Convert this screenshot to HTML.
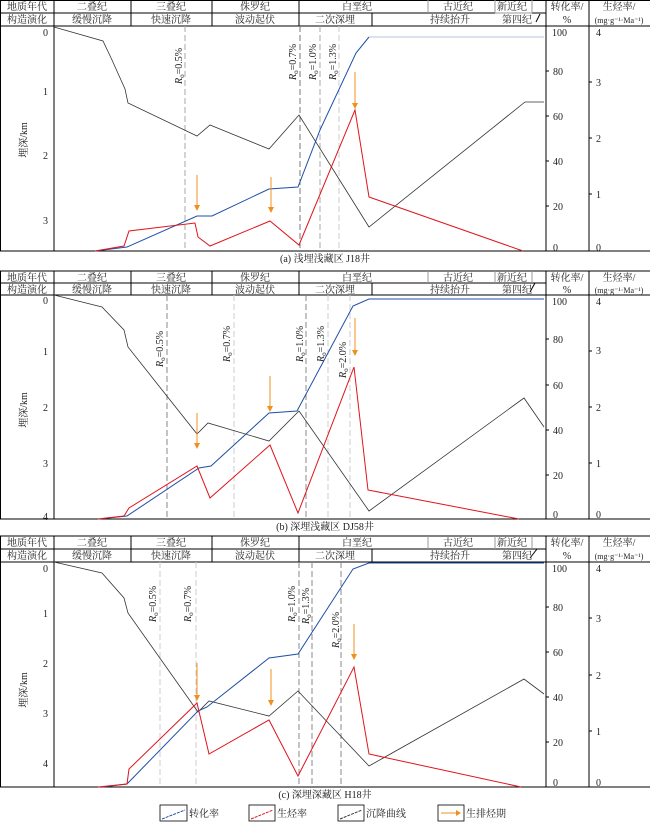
<!DOCTYPE html>
<html><head><meta charset="utf-8"><style>
html,body{margin:0;padding:0;background:#fff}
svg{display:block}
text{font-family:"Liberation Serif","Noto Serif CJK SC",serif;fill:#222}
</style></head><body>
<svg width="650" height="822" viewBox="0 0 650 822" xmlns="http://www.w3.org/2000/svg">

<!-- ===== Panel A ===== -->
<g>
<g stroke="#000" stroke-width="1" fill="none">
<line x1="0" y1="0.5" x2="650" y2="0.5"/>
<line x1="0" y1="13" x2="546" y2="13"/>
<line x1="0" y1="26" x2="650" y2="26"/>
<line x1="0" y1="251" x2="650" y2="251"/>
<line x1="0.5" y1="0" x2="0.5" y2="251"/>
<line x1="54" y1="0" x2="54" y2="251"/>
<line x1="131" y1="0" x2="131" y2="26"/><line x1="212" y1="0" x2="212" y2="26"/><line x1="299" y1="0" x2="299" y2="26"/><line x1="372" y1="13" x2="372" y2="26"/>
<line x1="546" y1="0" x2="546" y2="251"/><line x1="589" y1="0" x2="589" y2="251"/>
<line x1="536" y1="22" x2="540" y2="14"/>
</g>
<g stroke="#999" fill="none"><line x1="428" y1="0" x2="428" y2="13"/><line x1="495" y1="0" x2="495" y2="13"/><line x1="532" y1="0" x2="532" y2="13"/><line x1="495" y1="13" x2="532" y2="13"/></g>
<g font-size="10" text-anchor="middle">
<text x="27" y="10">地质年代</text><text x="27" y="23">构造演化</text>
<text x="92" y="10">二叠纪</text><text x="171" y="10">三叠纪</text><text x="255" y="10">侏罗纪</text><text x="357" y="10">白垩纪</text><text x="458" y="10">古近纪</text><text x="512" y="10">新近纪</text>
<text x="92" y="23">缓慢沉降</text><text x="171" y="23">快速沉降</text><text x="255" y="23">波动起伏</text><text x="335" y="23">二次深埋</text><text x="450" y="23">持续抬升</text><text x="517" y="23">第四纪</text>
<text x="567" y="10">转化率/</text><text x="567" y="23">%</text><text x="619" y="10">生烃率/</text><text x="619" y="23" font-size="8">(mg·g⁻¹·Ma⁻¹)</text>
</g>
<g font-size="10" text-anchor="end"><text x="48" y="36">0</text><text x="48" y="95">1</text><text x="48" y="159">2</text><text x="48" y="224">3</text></g>
<text font-size="10" text-anchor="middle" transform="translate(27,140) rotate(-90)">埋深/km</text>
<g font-size="10"><text x="552" y="36">100</text><text x="553" y="75">80</text><text x="553" y="120">60</text><text x="553" y="165">40</text><text x="553" y="210">20</text><text x="553" y="251">0</text>
<text x="596" y="36">4</text><text x="596" y="86">3</text><text x="596" y="142">2</text><text x="596" y="198">1</text><text x="596" y="251">0</text></g>
<g stroke="#000"><line x1="546" y1="71" x2="549" y2="71"/><line x1="546" y1="116" x2="549" y2="116"/><line x1="546" y1="161" x2="549" y2="161"/><line x1="546" y1="206" x2="549" y2="206"/><line x1="589" y1="82" x2="592" y2="82"/><line x1="589" y1="138" x2="592" y2="138"/><line x1="589" y1="194" x2="592" y2="194"/></g>
<g fill="none" stroke-dasharray="6,3">
<line x1="185" y1="26" x2="185" y2="251" stroke="#aaa"/><line x1="300" y1="26" x2="300" y2="251" stroke="#777"/><line x1="320" y1="26" x2="320" y2="251" stroke="#aaa"/><line x1="339" y1="26" x2="339" y2="251" stroke="#ccc"/>
</g>
<g font-size="10">
<text transform="translate(182,84) rotate(-90)"><tspan font-style="italic">R</tspan><tspan font-size="7" dy="2">o</tspan><tspan dy="-2">=0.5%</tspan></text>
<text transform="translate(296,80) rotate(-90)"><tspan font-style="italic">R</tspan><tspan font-size="7" dy="2">o</tspan><tspan dy="-2">=0.7%</tspan></text>
<text transform="translate(316,80) rotate(-90)"><tspan font-style="italic">R</tspan><tspan font-size="7" dy="2">o</tspan><tspan dy="-2">=1.0%</tspan></text>
<text transform="translate(336,80) rotate(-90)"><tspan font-style="italic">R</tspan><tspan font-size="7" dy="2">o</tspan><tspan dy="-2">=1.3%</tspan></text>
</g>
<polyline fill="none" stroke="#333" stroke-width="0.8" points="54,27 103,41 112,60 125,89 128,103 197,136 210,125 269,149 299,115 369,227 525,102 544,102"/>
<polyline fill="none" stroke="#1f4fa8" stroke-width="1" points="95,251 127,247 197,216 212,216 269,189 298,187 320,130 356,53 369,37"/>
<line x1="369" y1="37" x2="544" y2="37" stroke="#b8c6d8"/>
<polyline fill="none" stroke="#e0141c" stroke-width="1" points="95,251 124,246 129,231 195,223 198,237 210,246 270,221 299,245 355,110 369,197 523,251"/>
<g stroke="#f0901c" stroke-width="1"><line x1="197" y1="175" x2="197" y2="206"/><line x1="271" y1="177" x2="271" y2="208"/><line x1="355" y1="72" x2="355" y2="104"/></g>
<g fill="#f0901c"><path d="M194,205 L200,205 L197,211z"/><path d="M268,207 L274,207 L271,213z"/><path d="M352,103 L358,103 L355,109z"/></g>
<text x="325" y="262" font-size="10" text-anchor="middle">(a) 浅埋浅藏区 J18井</text>
</g>

<!-- ===== Panel B ===== -->
<g>
<g stroke="#000" stroke-width="1" fill="none">
<line x1="0" y1="271" x2="650" y2="271"/>
<line x1="0" y1="283" x2="546" y2="283"/>
<line x1="0" y1="295" x2="650" y2="295"/>
<line x1="0" y1="519" x2="650" y2="519"/>
<line x1="0.5" y1="271" x2="0.5" y2="519"/>
<line x1="54" y1="271" x2="54" y2="519"/>
<line x1="131" y1="271" x2="131" y2="295"/><line x1="212" y1="271" x2="212" y2="295"/><line x1="299" y1="271" x2="299" y2="295"/><line x1="372" y1="283" x2="372" y2="295"/>
<line x1="546" y1="271" x2="546" y2="519"/><line x1="589" y1="271" x2="589" y2="519"/>
<line x1="530" y1="292" x2="535" y2="283"/>
</g>
<g stroke="#999" fill="none"><line x1="428" y1="271" x2="428" y2="283"/><line x1="495" y1="271" x2="495" y2="283"/><line x1="532" y1="271" x2="532" y2="283"/></g>
<g font-size="10" text-anchor="middle">
<text x="27" y="281">地质年代</text><text x="27" y="293">构造演化</text>
<text x="92" y="281">二叠纪</text><text x="171" y="281">三叠纪</text><text x="255" y="281">侏罗纪</text><text x="357" y="281">白垩纪</text><text x="458" y="281">古近纪</text><text x="512" y="281">新近纪</text>
<text x="92" y="293">缓慢沉降</text><text x="171" y="293">快速沉降</text><text x="255" y="293">波动起伏</text><text x="335" y="293">二次深埋</text><text x="450" y="293">持续抬升</text><text x="517" y="293">第四纪</text>
<text x="567" y="281">转化率/</text><text x="567" y="293">%</text><text x="619" y="281">生烃率/</text><text x="619" y="293" font-size="8">(mg·g⁻¹·Ma⁻¹)</text>
</g>
<g font-size="10" text-anchor="end"><text x="48" y="304">0</text><text x="48" y="355">1</text><text x="48" y="411">2</text><text x="48" y="467">3</text><text x="48" y="520">4</text></g>
<text font-size="10" text-anchor="middle" transform="translate(27,410) rotate(-90)">埋深/km</text>
<g font-size="10"><text x="552" y="305">100</text><text x="553" y="343">80</text><text x="553" y="389">60</text><text x="553" y="434">40</text><text x="553" y="479">20</text><text x="553" y="518">0</text>
<text x="596" y="305">4</text><text x="596" y="354">3</text><text x="596" y="411">2</text><text x="596" y="467">1</text><text x="596" y="518">0</text></g>
<g stroke="#000"><line x1="546" y1="339" x2="549" y2="339"/><line x1="546" y1="385" x2="549" y2="385"/><line x1="546" y1="430" x2="549" y2="430"/><line x1="546" y1="475" x2="549" y2="475"/><line x1="589" y1="351" x2="592" y2="351"/><line x1="589" y1="407" x2="592" y2="407"/><line x1="589" y1="463" x2="592" y2="463"/></g>
<g fill="none" stroke-dasharray="6,3">
<line x1="167" y1="295" x2="167" y2="519" stroke="#888"/><line x1="234" y1="295" x2="234" y2="519" stroke="#ccc"/><line x1="306" y1="295" x2="306" y2="519" stroke="#888"/><line x1="328" y1="295" x2="328" y2="519" stroke="#ccc"/><line x1="350" y1="295" x2="350" y2="519" stroke="#ccc"/>
</g>
<g font-size="10">
<text transform="translate(163,367) rotate(-90)"><tspan font-style="italic">R</tspan><tspan font-size="7" dy="2">o</tspan><tspan dy="-2">=0.5%</tspan></text>
<text transform="translate(230,362) rotate(-90)"><tspan font-style="italic">R</tspan><tspan font-size="7" dy="2">o</tspan><tspan dy="-2">=0.7%</tspan></text>
<text transform="translate(303,362) rotate(-90)"><tspan font-style="italic">R</tspan><tspan font-size="7" dy="2">o</tspan><tspan dy="-2">=1.0%</tspan></text>
<text transform="translate(324,362) rotate(-90)"><tspan font-style="italic">R</tspan><tspan font-size="7" dy="2">o</tspan><tspan dy="-2">=1.3%</tspan></text>
<text transform="translate(346,378) rotate(-90)"><tspan font-style="italic">R</tspan><tspan font-size="7" dy="2">o</tspan><tspan dy="-2">=2.0%</tspan></text>
</g>
<polyline fill="none" stroke="#333" stroke-width="0.8" points="54,295 102,307 124,330 128,347 197,434 208,423 269,441 299,411 369,511 524,398 544,427"/>
<polyline fill="none" stroke="#1f4fa8" stroke-width="1" points="98,519 127,516 199,468 211,466 269,413 297,411 353,306 369,299 544,299"/>
<polyline fill="none" stroke="#e0141c" stroke-width="1" points="98,519 124,516 129,508 197,466 210,498 270,445 298,513 354,367 368,490 519,519"/>
<g stroke="#f0901c" stroke-width="1"><line x1="197" y1="413" x2="197" y2="444"/><line x1="270" y1="376" x2="270" y2="407"/><line x1="355" y1="318" x2="355" y2="351"/></g>
<g fill="#f0901c"><path d="M194,443 L200,443 L197,449z"/><path d="M267,406 L273,406 L270,412z"/><path d="M352,350 L358,350 L355,356z"/></g>
<text x="325" y="530" font-size="10" text-anchor="middle">(b) 深埋浅藏区 DJ58井</text>
</g>

<!-- ===== Panel C ===== -->
<g>
<g stroke="#000" stroke-width="1" fill="none">
<line x1="0" y1="536" x2="650" y2="536"/>
<line x1="0" y1="549" x2="546" y2="549"/>
<line x1="0" y1="562" x2="650" y2="562"/>
<line x1="0" y1="787" x2="650" y2="787"/>
<line x1="0.5" y1="536" x2="0.5" y2="787"/>
<line x1="54" y1="536" x2="54" y2="787"/>
<line x1="131" y1="536" x2="131" y2="562"/><line x1="212" y1="536" x2="212" y2="562"/><line x1="299" y1="536" x2="299" y2="562"/><line x1="372" y1="549" x2="372" y2="562"/>
<line x1="546" y1="536" x2="546" y2="787"/><line x1="589" y1="536" x2="589" y2="787"/>
<line x1="530" y1="558" x2="537" y2="549"/>
</g>
<g stroke="#999" fill="none"><line x1="428" y1="536" x2="428" y2="549"/><line x1="495" y1="536" x2="495" y2="549"/><line x1="532" y1="536" x2="532" y2="549"/></g>
<g font-size="10" text-anchor="middle">
<text x="27" y="546">地质年代</text><text x="27" y="559">构造演化</text>
<text x="92" y="546">二叠纪</text><text x="171" y="546">三叠纪</text><text x="255" y="546">侏罗纪</text><text x="357" y="546">白垩纪</text><text x="458" y="546">古近纪</text><text x="512" y="546">新近纪</text>
<text x="92" y="559">缓慢沉降</text><text x="171" y="559">快速沉降</text><text x="255" y="559">波动起伏</text><text x="335" y="559">二次深埋</text><text x="450" y="559">持续抬升</text><text x="517" y="559">第四纪</text>
<text x="567" y="546">转化率/</text><text x="567" y="559">%</text><text x="619" y="546">生烃率/</text><text x="619" y="559" font-size="8">(mg·g⁻¹·Ma⁻¹)</text>
</g>
<g font-size="10" text-anchor="end"><text x="48" y="572">0</text><text x="48" y="617">1</text><text x="48" y="667">2</text><text x="48" y="717">3</text><text x="48" y="767">4</text></g>
<text font-size="10" text-anchor="middle" transform="translate(27,690) rotate(-90)">埋深/km</text>
<g font-size="10"><text x="552" y="572">100</text><text x="553" y="611">80</text><text x="553" y="656">60</text><text x="553" y="701">40</text><text x="553" y="746">20</text><text x="553" y="786">0</text>
<text x="596" y="572">4</text><text x="596" y="622">3</text><text x="596" y="679">2</text><text x="596" y="735">1</text><text x="596" y="786">0</text></g>
<g stroke="#000"><line x1="546" y1="607" x2="549" y2="607"/><line x1="546" y1="652" x2="549" y2="652"/><line x1="546" y1="697" x2="549" y2="697"/><line x1="546" y1="742" x2="549" y2="742"/><line x1="589" y1="618" x2="592" y2="618"/><line x1="589" y1="675" x2="592" y2="675"/><line x1="589" y1="731" x2="592" y2="731"/></g>
<g fill="none" stroke-dasharray="6,3">
<line x1="160" y1="562" x2="160" y2="787" stroke="#ccc"/><line x1="196" y1="562" x2="196" y2="787" stroke="#ccc"/><line x1="299" y1="562" x2="299" y2="787" stroke="#888"/><line x1="312" y1="562" x2="312" y2="787" stroke="#888"/><line x1="341" y1="562" x2="341" y2="787" stroke="#888"/>
</g>
<g font-size="10">
<text transform="translate(156,622) rotate(-90)"><tspan font-style="italic">R</tspan><tspan font-size="7" dy="2">o</tspan><tspan dy="-2">=0.5%</tspan></text>
<text transform="translate(191,622) rotate(-90)"><tspan font-style="italic">R</tspan><tspan font-size="7" dy="2">o</tspan><tspan dy="-2">=0.7%</tspan></text>
<text transform="translate(295,622) rotate(-90)"><tspan font-style="italic">R</tspan><tspan font-size="7" dy="2">o</tspan><tspan dy="-2">=1.0%</tspan></text>
<text transform="translate(309,624) rotate(-90)"><tspan font-style="italic">R</tspan><tspan font-size="7" dy="2">o</tspan><tspan dy="-2">=1.3%</tspan></text>
<text transform="translate(339,648) rotate(-90)"><tspan font-style="italic">R</tspan><tspan font-size="7" dy="2">o</tspan><tspan dy="-2">=2.0%</tspan></text>
</g>
<polyline fill="none" stroke="#333" stroke-width="0.8" points="54,562 102,573 124,598 128,613 198,712 209,701 269,716 298,691 369,766 524,679 544,694"/>
<polyline fill="none" stroke="#1f4fa8" stroke-width="1" points="102,787 127,784 198,711 207,707 269,658 298,654 353,569 369,563 544,563"/>
<polyline fill="none" stroke="#e0141c" stroke-width="1" points="98,787 127,784 129,769 197,703 209,754 269,720 298,776 354,667 369,754 521,787"/>
<g stroke="#f0901c" stroke-width="1"><line x1="197" y1="663" x2="197" y2="696"/><line x1="271" y1="669" x2="271" y2="701"/><line x1="354" y1="624" x2="354" y2="655"/></g>
<g fill="#f0901c"><path d="M194,695 L200,695 L197,701z"/><path d="M268,700 L274,700 L271,706z"/><path d="M351,654 L357,654 L354,660z"/></g>
<text x="325" y="798" font-size="10" text-anchor="middle">(c) 深埋深藏区 H18井</text>
</g>

<!-- Legend -->
<g stroke="#000" fill="none" stroke-width="0.8">
<rect x="160" y="805" width="27" height="16"/><rect x="249" y="805" width="26" height="16"/><rect x="338" y="805" width="26" height="16"/><rect x="438" y="805" width="26" height="16"/>
</g>
<line x1="162" y1="819" x2="185" y2="810" stroke="#1f4fa8" stroke-dasharray="3,1"/>
<line x1="251" y1="819" x2="273" y2="810" stroke="#e0141c" stroke-dasharray="3,1"/>
<line x1="340" y1="819" x2="362" y2="810" stroke="#333" stroke-dasharray="3,1"/>
<line x1="441" y1="813" x2="456" y2="813" stroke="#f0901c"/><path d="M456,810 L461,813 L456,816 z" fill="#f0901c"/>
<g font-size="10"><text x="189" y="817">转化率</text><text x="277" y="817">生烃率</text><text x="366" y="817">沉降曲线</text><text x="466" y="817">生排烃期</text></g>
</svg>
</body></html>
